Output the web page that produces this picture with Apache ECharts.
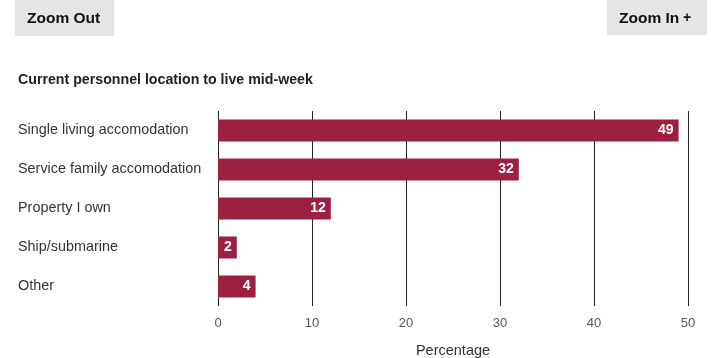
<!DOCTYPE html>
<html>
<head>
<meta charset="utf-8">
<script src="https://cdn.jsdelivr.net/npm/echarts@6/dist/echarts.min.js"></script>
<style>
  html, body { margin: 0; padding: 0; background: #fff; }
  #chart { width: 711px; height: 358px; }
</style>
</head>
<body>
<div id="chart"></div>
<script>
// categories listed top to bottom
const locations = [
  "Single living accomodation",
  "Service family accomodation",
  "Property I own",
  "Ship/submarine",
  "Other"
];
const percentages = [49, 32, 12, 2, 4];
const xTicks = [0, 10, 20, 30, 40, 50];

const barColor = "#9c2141";
const font = "'Liberation Sans', Arial, sans-serif";

const myChart = echarts.init(document.getElementById("chart"));

const options = {
  animation: false,
  textStyle: { fontFamily: font },
  graphic: [
    { type: "rect", left: 15, top: 0, shape: { width: 99, height: 36 }, style: { fill: "#e5e5e5" } },
    { type: "text", left: 27, top: 11, style: { text: "Zoom Out", font: "bold 15.5px " + font, fill: "#111" } },
    { type: "rect", left: 607, top: 0, shape: { width: 100, height: 35 }, style: { fill: "#e5e5e5" } },
    { type: "text", left: 619, top: 11, style: { text: "Zoom In", font: "bold 15.5px " + font, fill: "#111" } },
    { type: "text", left: 683, top: 11, style: { text: "+", font: "bold 14px " + font, fill: "#111" } },
    { type: "text", left: 18, top: 73, style: { text: "Current personnel location to live mid-week", font: "bold 14.2px " + font, fill: "#222" } }
  ],
  grid: {
    left: 218,
    right: 23,
    top: 111,
    bottom: 52,
    outerBoundsMode: "none",
    containLabel: false
  },
  xAxis: {
    type: "value",
    min: 0,
    max: 50,
    interval: 10,
    name: "Percentage",
    nameLocation: "middle",
    nameGap: 37,
    nameTextStyle: { color: "#333", fontSize: 14.5 },
    axisLine: { show: false },
    axisTick: { show: false },
    axisLabel: {
      color: "#555",
      fontSize: 13,
      margin: 11,
      formatter: (v) => (xTicks.includes(v) ? String(v) : "")
    },
    splitLine: { show: true, lineStyle: { color: "#222", width: 1 } }
  },
  yAxis: {
    type: "category",
    data: locations,
    inverse: true,
    axisLine: { show: false },
    axisTick: { show: false },
    axisLabel: {
      align: "left",
      margin: 200,
      color: "#333",
      fontSize: 14.4,
      padding: [3, 0, 0, 0]
    }
  },
  series: [
    {
      type: "bar",
      data: percentages,
      barWidth: 22,
      itemStyle: { color: barColor },
      label: {
        show: true,
        position: "insideRight",
        distance: 5,
        color: "#fff",
        fontWeight: "bold",
        fontSize: 14,
        padding: [2, 0, 0, 0]
      }
    }
  ]
};

myChart.setOption(options);
</script>
</body>
</html>
